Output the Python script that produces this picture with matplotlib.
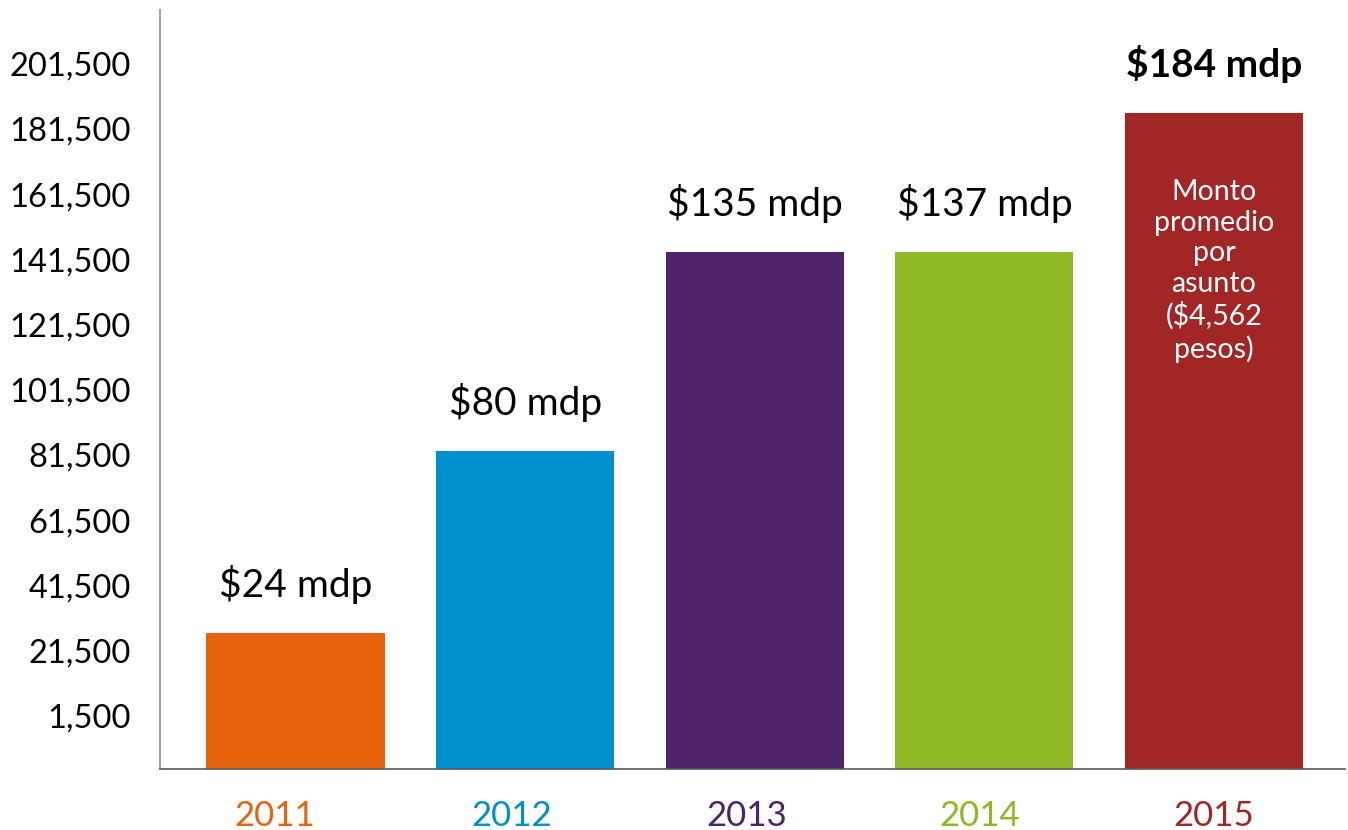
import matplotlib.pyplot as plt
import numpy as np

plt.rcParams['font.family'] = ['Lato', 'DejaVu Sans']

years = ["2011", "2012", "2013", "2014", "2015"]
values = [27000, 82800, 143800, 143800, 186500]
labels = ["$24 mdp", "$80 mdp", "$135 mdp", "$137 mdp", "$184 mdp"]
colors = ["#E8630E", "#0090CD", "#4E2468", "#8DB924", "#A22626"]
ytick_values = np.arange(1500, 201501, 20000)
inner_text = "Monto\npromedio\npor\nasunto\n($4,562\npesos)"

ymin, ymax = -14800, 218000

fig = plt.figure(figsize=(13.48, 8.3), dpi=100)
ax = fig.add_axes([0.1187, 0.0735, 0.879, 0.9145])

x = np.arange(len(years))
# bars start at the bottom of the axis, as in the original
ax.bar(x, np.array(values) - ymin, bottom=ymin, width=0.776, color=colors)

ax.set_xlim(-0.59, 4.57)
ax.set_ylim(ymin, ymax)

ax.set_yticks(ytick_values)
ax.set_yticklabels([f"{v:,}" for v in ytick_values], fontsize=23.5)
# year labels sit slightly left of the bar centres in the original
label_shift = np.array([-0.09, -0.06, -0.035, -0.02, 0.0])
ax.set_xticks(x + label_shift)
ax.set_xticklabels(years, fontsize=25)
for lbl, c in zip(ax.get_xticklabels(), colors):
    lbl.set_color(c)
ax.tick_params(axis='both', length=0)
ax.tick_params(axis='y', pad=21)
ax.tick_params(axis='x', pad=22)

for s in ["top", "right"]:
    ax.spines[s].set_visible(False)
ax.spines["left"].set_color("#A6A6A6")
ax.spines["left"].set_linewidth(1.5)
ax.spines["bottom"].set_color("#595959")
ax.spines["bottom"].set_linewidth(1.2)

# value labels above bars
for i, (v, t) in enumerate(zip(values, labels)):
    bold = (i == len(values) - 1)
    ax.annotate(t, (i, v), xytext=(0, 21), textcoords="offset points",
                ha="center", va="bottom", fontsize=28,
                fontweight="bold" if bold else "normal", color="black")

# text inside last bar
ax.text(4, 138000, inner_text, ha="center", va="center", color="white",
        fontsize=20.5, linespacing=1.22)

fig.savefig("out.png", dpi=100)
